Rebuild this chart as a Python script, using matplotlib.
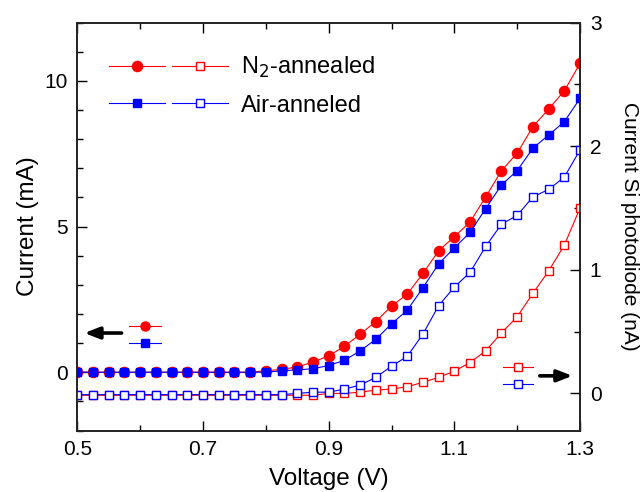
import matplotlib
matplotlib.use("Agg")
import matplotlib.pyplot as plt
from matplotlib.lines import Line2D
from matplotlib.legend_handler import HandlerTuple
from matplotlib.ticker import MultipleLocator
import numpy as np

plt.rcParams['font.family'] = ['Liberation Sans', 'DejaVu Sans']

voltage = [0.5, 0.525, 0.55, 0.575, 0.6, 0.625, 0.65, 0.675, 0.7, 0.725, 0.75,
           0.775, 0.8, 0.825, 0.85, 0.875, 0.9, 0.925, 0.95, 0.975, 1.0, 1.025,
           1.05, 1.075, 1.1, 1.125, 1.15, 1.175, 1.2, 1.225, 1.25, 1.275, 1.3]

n2_current = [0.0, 0.0, 0.0, 0.0, 0.0, 0.0, 0.0, 0.0, 0.0, 0.0, 0.0,
              0.0, 0.05, 0.1, 0.18, 0.35, 0.56, 0.89, 1.3, 1.74, 2.27, 2.68,
              3.39, 4.17, 4.65, 5.16, 6.02, 6.92, 7.52, 8.43, 9.03, 9.66, 10.6]

air_current = [0.0, 0.0, 0.0, 0.0, 0.0, 0.0, 0.0, 0.0, 0.0, 0.0, 0.0,
               0.0, 0.0, 0.05, 0.08, 0.12, 0.23, 0.41, 0.73, 1.13, 1.66, 2.13,
               2.9, 3.72, 4.27, 4.8, 5.62, 6.43, 6.92, 7.69, 8.14, 8.6, 9.4]

n2_photo = [-0.015, -0.015, -0.015, -0.015, -0.015, -0.015, -0.015, -0.015, -0.015,
            -0.015, -0.015, -0.015, -0.015, -0.015, -0.015, -0.015, 0.0, 0.0, 0.01,
            0.027, 0.035, 0.054, 0.09, 0.13, 0.18, 0.25, 0.345, 0.49, 0.62, 0.81,
            0.99, 1.2, 1.5]

air_photo = [-0.01, -0.01, -0.01, -0.01, -0.01, -0.01, -0.01, -0.01, -0.01,
             -0.01, -0.01, -0.01, -0.01, -0.01, 0.0, 0.01, 0.01, 0.035, 0.067,
             0.13, 0.22, 0.3, 0.48, 0.71, 0.86, 0.98, 1.19, 1.37, 1.44, 1.59,
             1.65, 1.75, 1.97]

labels = ['N$_2$-annealed', 'Air-anneled']

RED = '#FF0000'
BLUE = '#0000FF'

fig = plt.figure(figsize=(6.4, 4.92), dpi=100)
ax = fig.add_axes([0.1208, 0.125, 0.7855, 0.829])
ax2 = ax.twinx()

lw = 0.8
MS_C, MS_S, MS_O = 7.3, 6.3, 5.8
l1, = ax.plot(voltage, n2_current, color=RED, lw=lw, marker='o', ms=MS_C,
              mfc=RED, mec=RED)
l2, = ax.plot(voltage, air_current, color=BLUE, lw=lw, marker='s', ms=MS_S,
              mfc=BLUE, mec=BLUE)
l3, = ax2.plot(voltage, n2_photo, color=RED, lw=lw, marker='s', ms=MS_O,
               mfc='white', mec=RED, mew=1.0)
l4, = ax2.plot(voltage, air_photo, color=BLUE, lw=lw, marker='s', ms=MS_O,
               mfc='white', mec=BLUE, mew=1.0)

ax.set_xlim(0.5, 1.3)
ax.set_ylim(-2, 12)
ax2.set_ylim(-0.3, 3)

ax.set_xticks([0.5, 0.7, 0.9, 1.1, 1.3])
ax.set_xticklabels(['0.5', '0.7', '0.9', '1.1', '1.3'])
ax.xaxis.set_minor_locator(MultipleLocator(0.1))
ax.set_yticks([0, 5, 10])
ax.yaxis.set_minor_locator(MultipleLocator(1))
ax2.set_yticks([0, 1, 2, 3])
ax2.yaxis.set_minor_locator(MultipleLocator(0.5))

for a in (ax, ax2):
    a.tick_params(which='major', direction='in', length=7, width=1.0,
                  labelsize=15, pad=7)
    a.tick_params(which='minor', direction='in', length=4, width=1.0)
    for s in a.spines.values():
        s.set_linewidth(1.2)
        s.set_color('#222222')
ax.tick_params(which='both', top=True, right=False)
ax2.tick_params(which='both', right=True, left=False)

ax.set_xlabel('Voltage (V)', fontsize=17.5, labelpad=6)
ax.set_ylabel('Current (mA)', fontsize=17.5, labelpad=4)
ax2.set_ylabel('Current Si photodiode (nA)', fontsize=15, rotation=270,
               labelpad=27)

leg = ax.legend(handles=[(l1, l3), (l2, l4)], labels=labels,
                handler_map={tuple: HandlerTuple(ndivide=None, pad=0.3)},
                handlelength=5.0, handletextpad=0.55, labelspacing=0.6,
                fontsize=17, frameon=False, loc='upper left',
                bbox_to_anchor=(0.064, 0.92), borderaxespad=0, borderpad=0)

ARROW = dict(arrowstyle='-|>,head_length=0.9,head_width=0.35',
             color='black', lw=2.6, shrinkA=0, shrinkB=0)

# axis keys with arrows
ax.add_line(Line2D([0.103, 0.166], [0.257, 0.257], transform=ax.transAxes,
                   color=RED, lw=lw))
ax.add_line(Line2D([0.135], [0.257], transform=ax.transAxes, color=RED,
                   marker='o', ms=6.5, mfc=RED, mec=RED))
ax.add_line(Line2D([0.103, 0.166], [0.2154, 0.2154], transform=ax.transAxes,
                   color=BLUE, lw=lw))
ax.add_line(Line2D([0.135], [0.2154], transform=ax.transAxes, color=BLUE,
                   marker='s', ms=5.5, mfc=BLUE, mec=BLUE))
ax.annotate('', xy=(0.014, 0.239), xytext=(0.088, 0.239),
            xycoords='axes fraction', arrowprops=ARROW)

ax2.add_line(Line2D([0.846, 0.907], [0.155, 0.155], transform=ax2.transAxes,
                    color=RED, lw=lw))
ax2.add_line(Line2D([0.877], [0.155], transform=ax2.transAxes, color=RED,
                    marker='s', ms=5.5, mfc='white', mec=RED, mew=1.0))
ax2.add_line(Line2D([0.846, 0.907], [0.113, 0.113], transform=ax2.transAxes,
                    color=BLUE, lw=lw))
ax2.add_line(Line2D([0.877], [0.113], transform=ax2.transAxes, color=BLUE,
                    marker='s', ms=5.5, mfc='white', mec=BLUE, mew=1.0))
ax2.annotate('', xy=(0.985, 0.134), xytext=(0.92, 0.134),
             xycoords='axes fraction', arrowprops=ARROW)

fig.savefig('out.png', dpi=100)
